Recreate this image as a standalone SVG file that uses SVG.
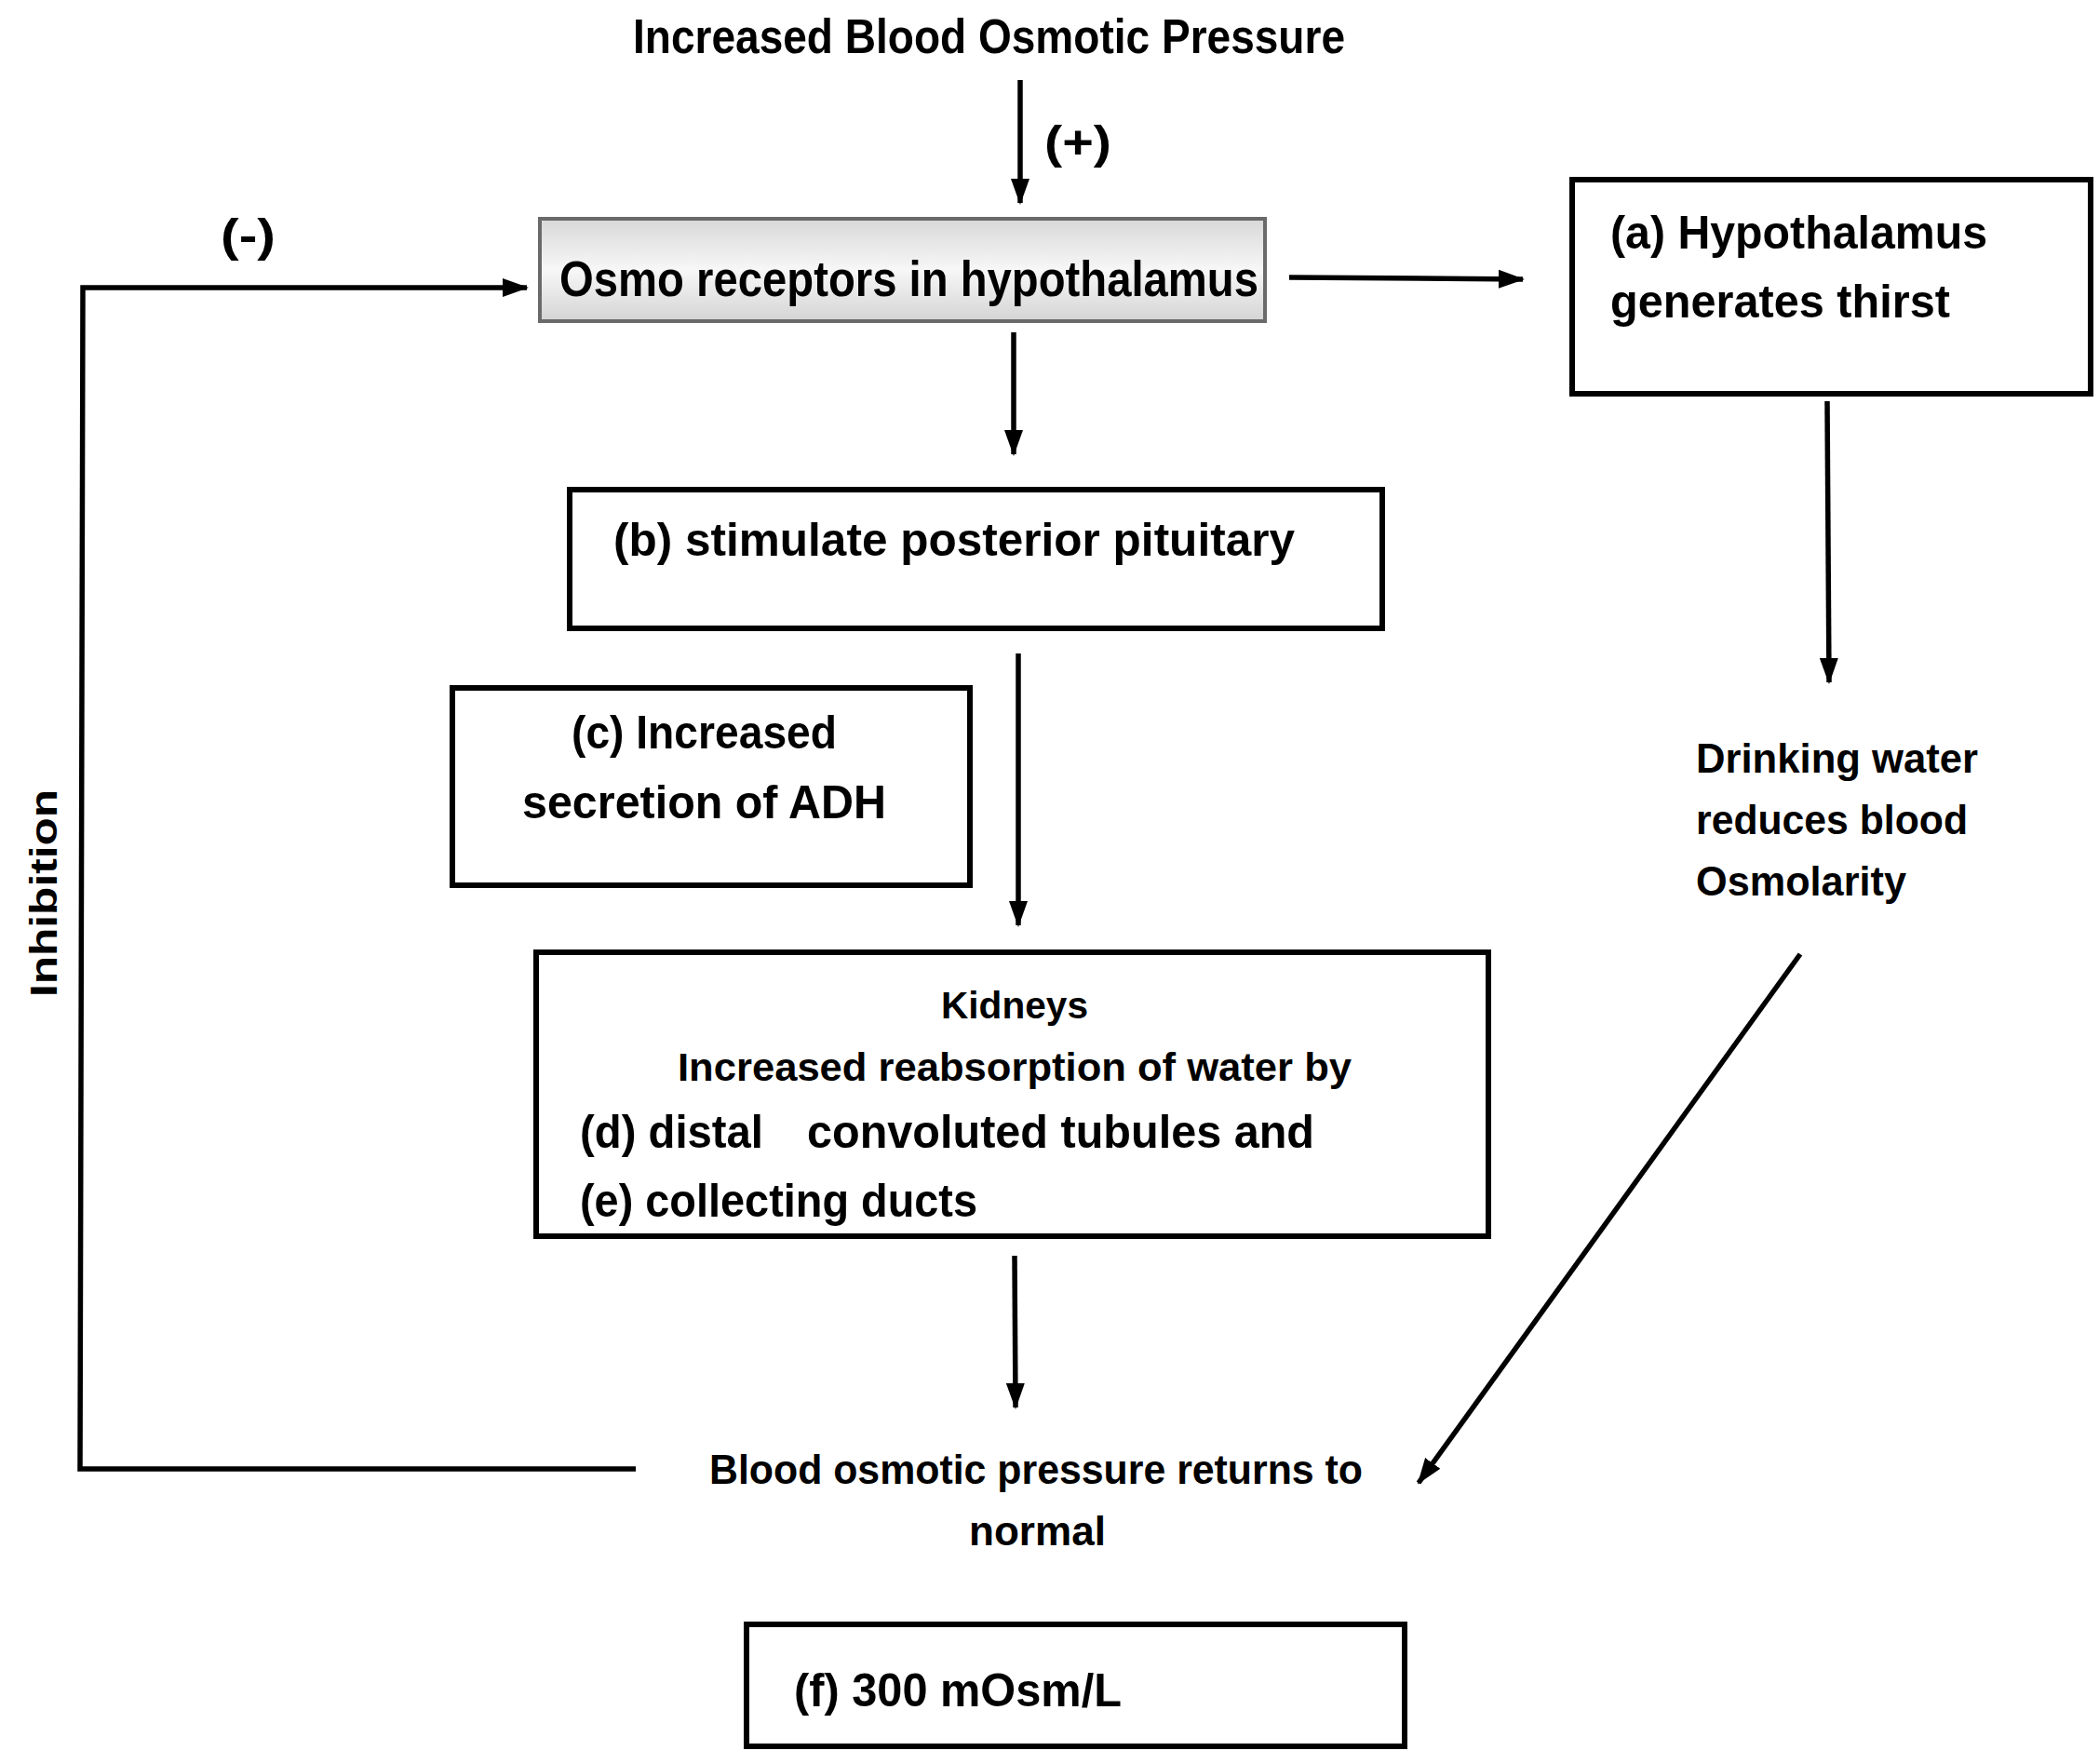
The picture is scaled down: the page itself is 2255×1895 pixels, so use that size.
<svg xmlns="http://www.w3.org/2000/svg" width="2255" height="1895" viewBox="0 0 2255 1895">
<defs>
<marker id="ah" markerUnits="userSpaceOnUse" markerWidth="28" markerHeight="24" refX="26" refY="12" orient="auto">
<path d="M0,2 L28,12 L0,22 Z" fill="#000"/>
</marker>
<linearGradient id="og" x1="0" y1="0" x2="0" y2="1">
<stop offset="0" stop-color="#d8d8d8"/>
<stop offset="0.5" stop-color="#f7f7f7"/>
<stop offset="1" stop-color="#d4d4d4"/>
</linearGradient>
<style>
text{font-family:"Liberation Sans",Arial,sans-serif;font-weight:bold;fill:#000}
.box{fill:#fff;stroke:#000;stroke-width:6}
.con{fill:none;stroke:#000;stroke-width:5.5}
</style>
</defs>
<rect width="2255" height="1895" fill="#fff"/>

<g id="title">
<text x="680" y="57" font-size="52" textLength="765" lengthAdjust="spacingAndGlyphs">Increased Blood Osmotic Pressure</text>
</g>
<g id="plus"><text x="1122" y="170" font-size="50" textLength="72" lengthAdjust="spacingAndGlyphs">(+)</text></g>
<g id="minus"><text x="237" y="270" font-size="50" textLength="59" lengthAdjust="spacingAndGlyphs">(-)</text></g>

<g id="osmo">
<rect x="580" y="235" width="779" height="110" fill="url(#og)" stroke="#6a6a6a" stroke-width="4"/>
<text x="601" y="318" font-size="54" textLength="751" lengthAdjust="spacingAndGlyphs">Osmo receptors in hypothalamus</text>
</g>

<g id="a">
<rect class="box" x="1689" y="193" width="557" height="230"/>
<text x="1730" y="267" font-size="50" textLength="405" lengthAdjust="spacingAndGlyphs">(a) Hypothalamus</text>
<text x="1730" y="341" font-size="50" textLength="365" lengthAdjust="spacingAndGlyphs">generates thirst</text>
</g>

<g id="drinking">
<text x="1822" y="830" font-size="45" textLength="303" lengthAdjust="spacingAndGlyphs">Drinking water</text>
<text x="1822" y="896" font-size="45" textLength="292" lengthAdjust="spacingAndGlyphs">reduces blood</text>
<text x="1822" y="962" font-size="45" textLength="226" lengthAdjust="spacingAndGlyphs">Osmolarity</text>
</g>

<g id="b">
<rect class="box" x="612" y="526" width="873" height="149"/>
<text x="659" y="597" font-size="50" textLength="732" lengthAdjust="spacingAndGlyphs">(b) stimulate posterior pituitary</text>
</g>

<g id="c">
<rect class="box" x="486" y="739" width="556" height="212"/>
<text x="614" y="804" font-size="50" textLength="285" lengthAdjust="spacingAndGlyphs">(c) Increased</text>
<text x="561" y="879" font-size="50" textLength="391" lengthAdjust="spacingAndGlyphs">secretion of ADH</text>
</g>

<g id="kidneys">
<rect class="box" x="576" y="1023" width="1023" height="305"/>
<text x="1011" y="1094" font-size="41" textLength="158" lengthAdjust="spacingAndGlyphs">Kidneys</text>
<text x="728" y="1161" font-size="43" textLength="724" lengthAdjust="spacingAndGlyphs">Increased reabsorption of water by</text>
<text x="623" y="1233" font-size="50" textLength="197" lengthAdjust="spacingAndGlyphs">(d) distal</text>
<text x="867" y="1233" font-size="50" textLength="545" lengthAdjust="spacingAndGlyphs">convoluted tubules and</text>
<text x="623" y="1307" font-size="50" textLength="427" lengthAdjust="spacingAndGlyphs">(e) collecting ducts</text>
</g>

<g id="normal">
<text x="762" y="1594" font-size="45" textLength="702" lengthAdjust="spacingAndGlyphs">Blood osmotic pressure returns to</text>
<text x="1041" y="1660" font-size="45" textLength="147" lengthAdjust="spacingAndGlyphs">normal</text>
</g>

<g id="f">
<rect class="box" x="802" y="1745" width="707" height="131"/>
<text x="853" y="1833" font-size="50" textLength="352" lengthAdjust="spacingAndGlyphs">(f) 300 mOsm/L</text>
</g>

<g id="inhibition">
<text x="0" y="0" font-size="41" textLength="223" lengthAdjust="spacingAndGlyphs" transform="translate(61,1071) rotate(-90)">Inhibition</text>
</g>

<g id="connectors">
<line class="con" x1="1096" y1="86" x2="1096" y2="218" marker-end="url(#ah)"/>
<line class="con" x1="1385" y1="298" x2="1636" y2="300" marker-end="url(#ah)"/>
<line class="con" x1="1089" y1="357" x2="1089" y2="488" marker-end="url(#ah)"/>
<line class="con" x1="1094" y1="702" x2="1094" y2="994" marker-end="url(#ah)"/>
<line class="con" x1="1963" y1="431" x2="1965" y2="733" marker-end="url(#ah)"/>
<line class="con" x1="1934" y1="1025" x2="1524" y2="1593" marker-end="url(#ah)"/>
<line class="con" x1="1090" y1="1349" x2="1091" y2="1512" marker-end="url(#ah)"/>
<polyline class="con" points="683,1578 86,1578 89,309 566,309" marker-end="url(#ah)"/>
</g>
</svg>
